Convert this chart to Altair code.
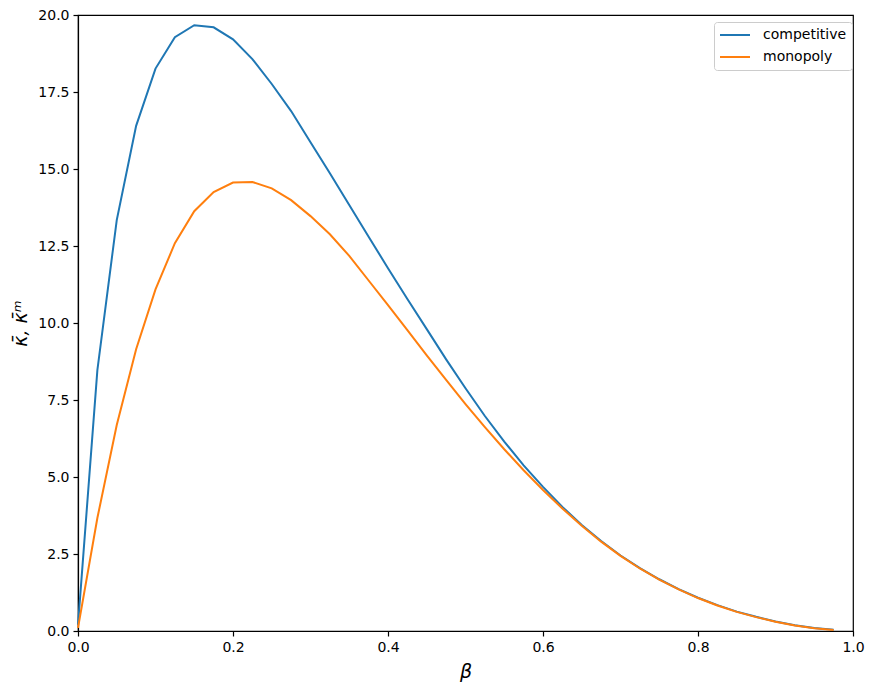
import altair as alt
import pandas as pd

beta = [round(0.025 * i, 3) for i in range(40)]
competitive = [0.2, 8.47, 13.34, 16.40, 18.26, 19.28, 19.67, 19.60, 19.21, 18.57,
               17.76, 16.88, 15.87, 14.86, 13.83, 12.80, 11.78, 10.78, 9.80, 8.82,
               7.88, 6.98, 6.15, 5.38, 4.68, 4.03, 3.44, 2.92, 2.45, 2.04,
               1.68, 1.36, 1.08, 0.84, 0.63, 0.46, 0.31, 0.19, 0.10, 0.04]
monopoly = [0.1, 3.67, 6.69, 9.15, 11.09, 12.59, 13.63, 14.25, 14.56, 14.58,
            14.37, 13.99, 13.47, 12.88, 12.18, 11.38, 10.58, 9.77, 8.95, 8.15,
            7.37, 6.62, 5.90, 5.22, 4.58, 3.98, 3.42, 2.90, 2.44, 2.03,
            1.67, 1.35, 1.07, 0.83, 0.62, 0.45, 0.30, 0.18, 0.09, 0.03]
series_names = ["competitive", "monopoly"]
series_colors = ["#1f77b4", "#ff7f0e"]
x_ticks = [0.0, 0.2, 0.4, 0.6, 0.8, 1.0]
y_ticks = [0.0, 2.5, 5.0, 7.5, 10.0, 12.5, 15.0, 17.5, 20.0]

rows = []
for b, c, m in zip(beta, competitive, monopoly):
    rows.append({"beta": b, "value": c, "series": "competitive"})
    rows.append({"beta": b, "value": m, "series": "monopoly"})
df = pd.DataFrame(rows)

font = "DejaVu Sans"

chart = alt.Chart(df).mark_line(strokeWidth=2).encode(
    x=alt.X("beta:Q",
            scale=alt.Scale(domain=[0, 1], nice=False, zero=False),
            axis=alt.Axis(values=x_ticks, format=".1f", title="β",
                          labelFlush=False,
                          titleFontSize=19, titleFontStyle="italic",
                          titleFontWeight="normal", titlePadding=8)),
    y=alt.Y("value:Q",
            scale=alt.Scale(domain=[0, 20], nice=False),
            axis=alt.Axis(values=y_ticks, format=".1f", title="κ̄, κ̄ᵐ",
                          labelFlush=False,
                          titleFontSize=19, titleFontStyle="italic",
                          titleFontWeight="normal", titlePadding=7)),
    color=alt.Color("series:N",
                    scale=alt.Scale(domain=series_names, range=series_colors),
                    legend=alt.Legend(title=None, orient="none",
                                      legendX=636, legendY=7,
                                      symbolType="stroke", symbolStrokeWidth=2,
                                      symbolSize=900, clipHeight=16,
                                      labelFontSize=14, labelFont=font,
                                      labelColor="black", labelOffset=12,
                                      strokeColor="#cccccc", fillColor="white",
                                      cornerRadius=3, padding=5, rowPadding=6)),
    detail="series:N",
).properties(
    width=775, height=616,
    autosize=alt.AutoSizeParams(type="none"),
    padding={"left": 70, "top": 7, "right": 13, "bottom": 54},
).configure_view(
    stroke="black", strokeWidth=1.2
).configure_axis(
    grid=False, domain=True, domainColor="black", domainWidth=1.2,
    tickColor="black", tickSize=5, tickWidth=1.2,
    labelFont=font, labelFontSize=14, labelColor="black", labelPadding=4,
    titleFont=font, titleColor="black",
)

chart.save("out.html", embed_options={"renderer": "svg", "actions": False})
